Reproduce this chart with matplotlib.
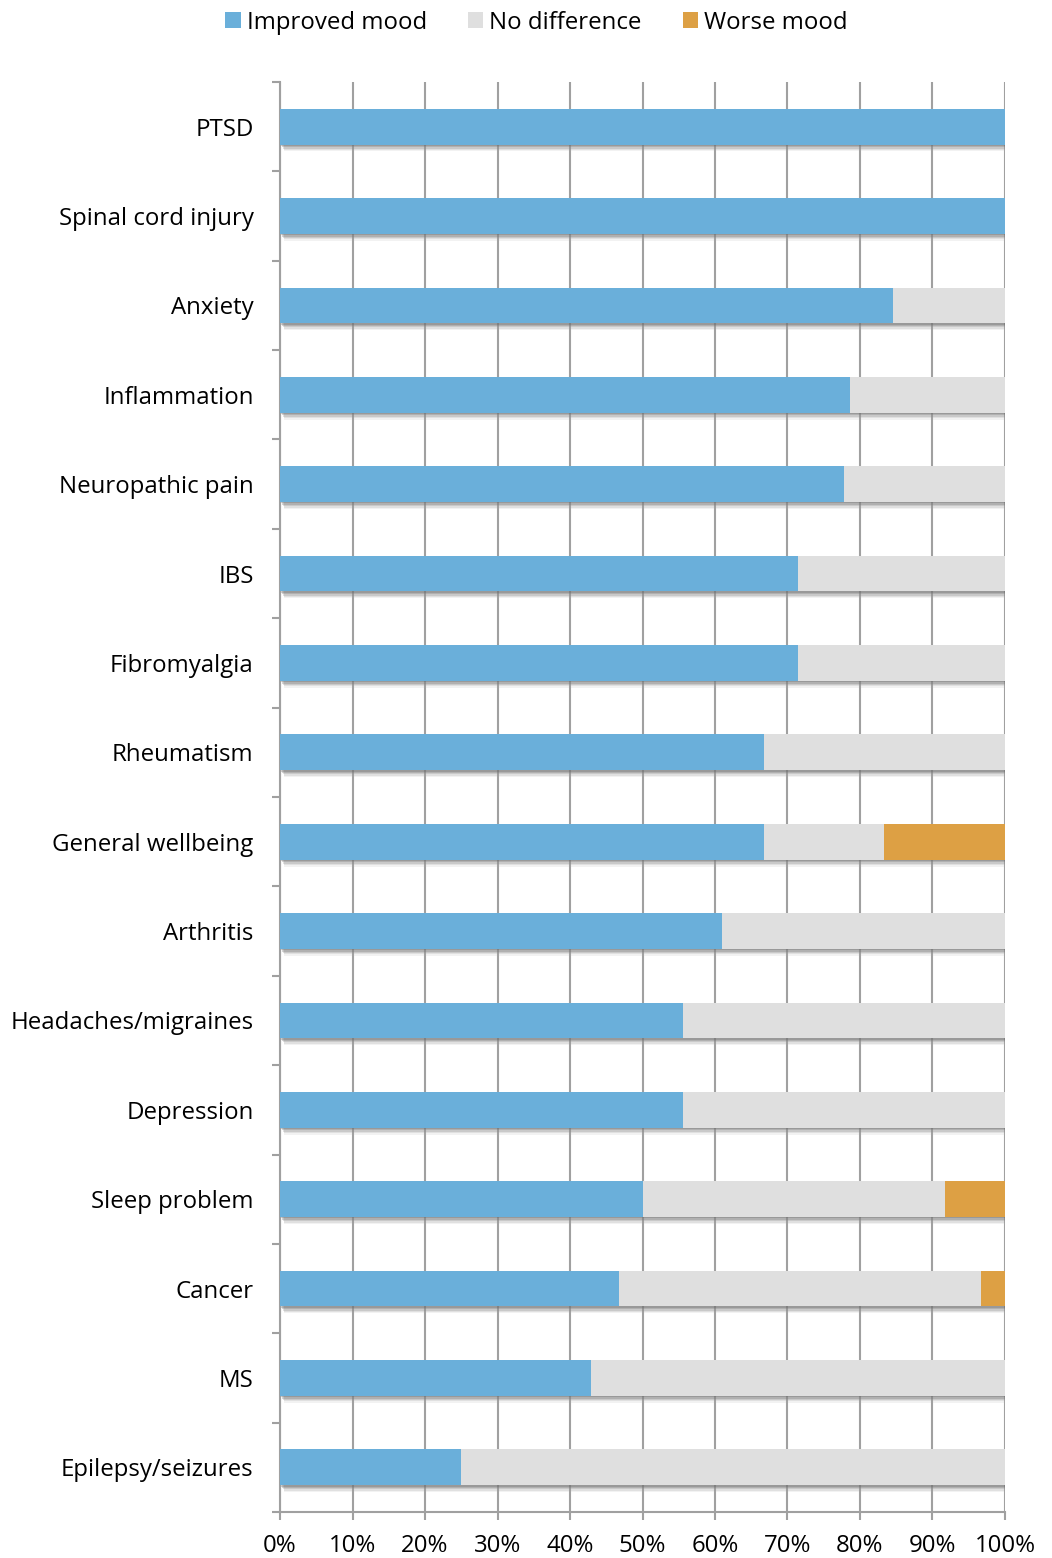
import numpy as np
import matplotlib.pyplot as plt
import matplotlib.patheffects as pe
from matplotlib.patches import Patch

plt.rcParams['font.family'] = ['Open Sans', 'DejaVu Sans']

conditions = ['PTSD', 'Spinal cord injury', 'Anxiety', 'Inflammation',
              'Neuropathic pain', 'IBS', 'Fibromyalgia', 'Rheumatism',
              'General wellbeing', 'Arthritis', 'Headaches/migraines',
              'Depression', 'Sleep problem', 'Cancer', 'MS', 'Epilepsy/seizures']
improved = [100, 100, 84.6, 78.6, 77.8, 71.4, 71.4, 66.7,
            66.7, 60.9, 55.6, 55.6, 50.0, 46.7, 42.9, 25.0]
worse = [0, 0, 0, 0, 0, 0, 0, 0,
         16.7, 0, 0, 0, 8.3, 3.3, 0, 0]
no_diff = [100 - a - b for a, b in zip(improved, worse)]

series = ['Improved mood', 'No difference', 'Worse mood']
colors = ['#6aafda', '#dfdfdf', '#dda044']

fig = plt.figure(figsize=(10.52, 15.58), dpi=100)
ax = fig.add_axes([0.2662, 0.0295, 0.6891, 0.9179])

y = np.arange(len(conditions))
# soft drop shadow built from a few offset layers
shadow = [pe.SimplePatchShadow(offset=(3, -5), shadow_rgbFace='#aaaaaa', alpha=0.15),
          pe.SimplePatchShadow(offset=(2.5, -4), shadow_rgbFace='#999999', alpha=0.2),
          pe.SimplePatchShadow(offset=(2, -3), shadow_rgbFace='#888888', alpha=0.25),
          pe.SimplePatchShadow(offset=(1.5, -2), shadow_rgbFace='#777777', alpha=0.3),
          pe.SimplePatchShadow(offset=(1, -1), shadow_rgbFace='#666666', alpha=0.3),
          pe.Normal()]

left = np.zeros(len(conditions))
for vals, col in zip([improved, no_diff, worse], colors):
    vals = np.array(vals)
    bars = ax.barh(y, vals, left=left, height=0.40, color=col, zorder=3)
    for b in bars:
        if b.get_width() > 0:
            b.set_path_effects(shadow)
    left += vals

ax.set_xlim(0, 100)
ax.set_ylim(len(conditions) - 0.5, -0.5)
ax.set_xticks(np.arange(0, 101, 10))
ax.set_xticklabels([f'{v}%' for v in range(0, 101, 10)])
ax.set_yticks(y)
ax.set_yticklabels(conditions)
ax.set_yticks(np.arange(-0.5, len(conditions), 1), minor=True)

gcol = '#a0a0a0'
ax.grid(axis='x', color=gcol, linewidth=1.5, zorder=0)
ax.set_axisbelow(True)
for s in ['top', 'right']:
    ax.spines[s].set_visible(False)
for s in ['left', 'bottom']:
    ax.spines[s].set_color(gcol)
    ax.spines[s].set_linewidth(1.5)

ax.tick_params(axis='y', which='major', length=0, pad=19, labelsize=17.3)
ax.tick_params(axis='y', which='minor', length=6, width=1.5, color=gcol)
ax.tick_params(axis='x', length=6, width=1.5, color=gcol, pad=10, labelsize=17.3)

handles = [Patch(facecolor=c, label=s) for s, c in zip(series, colors)]
fig.legend(handles=handles, loc='upper center', bbox_to_anchor=(0.51, 1.007), ncol=3,
           frameon=False, fontsize=17.3, handlelength=0.64, handleheight=0.64,
           handletextpad=0.25, columnspacing=1.7)

fig.savefig('out.png', dpi=100)
